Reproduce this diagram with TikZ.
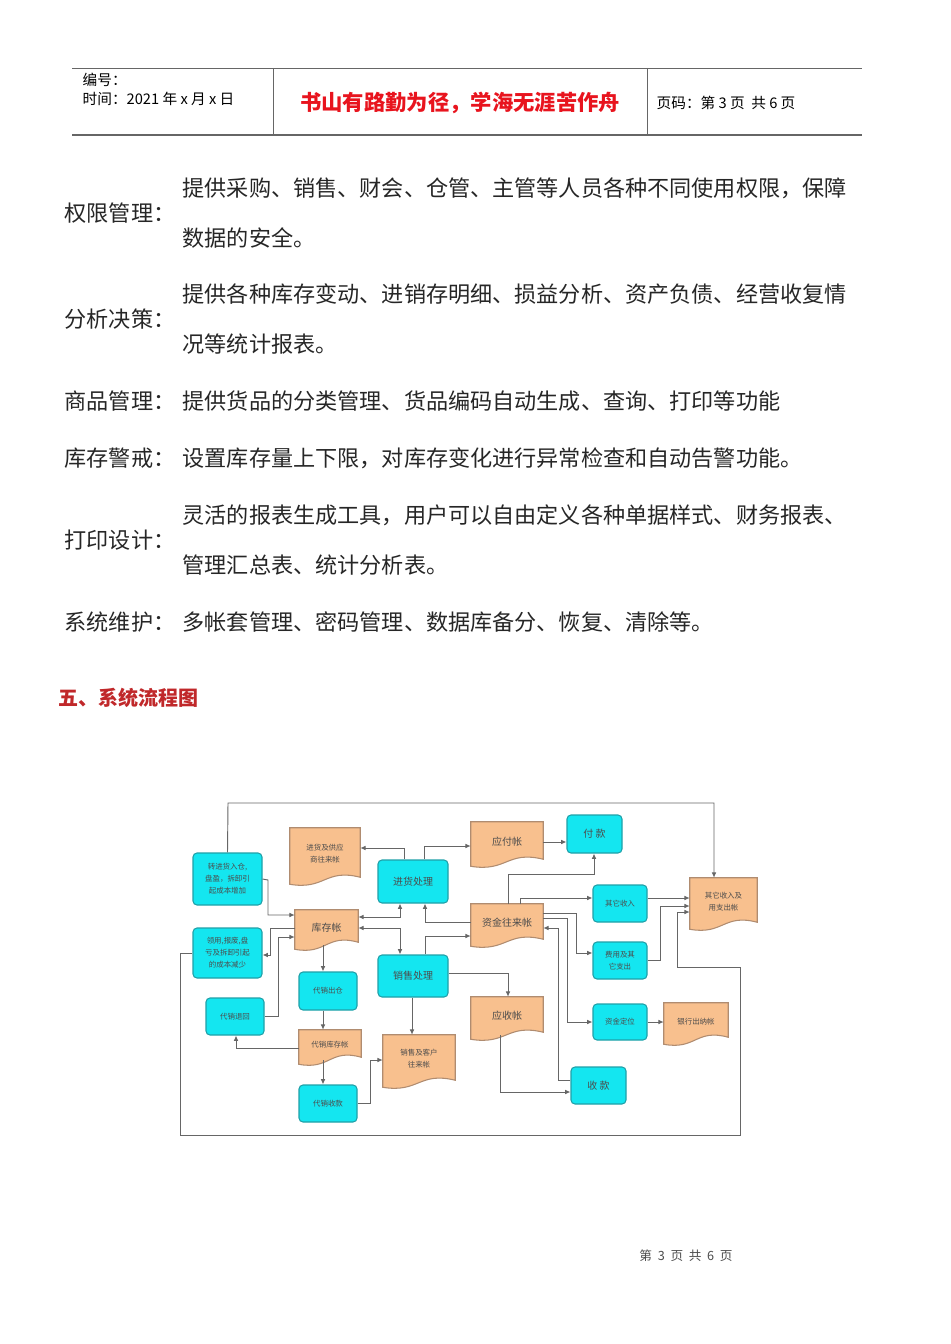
\documentclass[tikz,border=0pt]{standalone}
\usepackage{fontspec}
\setmainfont{Noto Sans CJK SC}
\usetikzlibrary{calc,backgrounds,arrows.meta}
\definecolor{cy}{HTML}{14E6F0}
\definecolor{cyb}{HTML}{1FA0A8}
\definecolor{org}{HTML}{F8C08E}
\definecolor{orb}{HTML}{B08C70}
\definecolor{ln}{HTML}{666666}
\definecolor{motto}{HTML}{E8141E}
\definecolor{sect}{HTML}{C0282A}
\newcommand{\bx}[7]{\node[#7,minimum width={(#4-#2)*0.75pt},minimum height={(#5-#3)*0.75pt}] (#1) at ({(#2+#4)/2},{(#3+#5)/2}) {#6};}
\newcommand{\docshape}[1]{\begin{scope}[on background layer]\draw[orb,fill=org,line width=0.8pt] (#1.north west) -- (#1.north east) -- ($(#1.south east)+(0,-3)$) .. controls ($(#1.south)+(0,-12)$) and ($(#1.south)+(0,10)$) .. ($(#1.south west)+(0,4)$) -- cycle;\end{scope}}
\begin{document}
\begin{tikzpicture}[x=0.75pt,y=-0.75pt,
  cbox/.style={draw=cyb,fill=cy,rounded corners=3pt,line width=0.8pt,inner sep=1pt,align=center,font=\fontsize{7.5}{10}\selectfont,text=black!70},
  dbox/.style={draw=none,inner sep=1pt,align=center,font=\fontsize{7.5}{10}\selectfont,text=black!70},
  sm/.style={font=\fontsize{5.6}{9}\selectfont},
  ar/.style={draw=ln,line width=0.7pt,-{Latex[length=4pt,width=3.5pt]}},
  dar/.style={draw=ln,line width=0.7pt,{Latex[length=4pt,width=3.5pt]}-{Latex[length=4pt,width=3.5pt]}},
  pl/.style={draw=ln,line width=0.7pt},
  body/.style={anchor=west,font=\fontsize{16.6}{18}\selectfont,text=black!85}]
\useasboundingbox (0,0) rectangle (950,1344);
% header
\draw[black!60,line width=0.6pt] (72,68) -- (862,68);
\draw[black!60,line width=1.2pt] (72,135) -- (862,135);
\draw[black!60,line width=0.6pt] (273,68) -- (273,135) (647,68) -- (647,135);
\node[anchor=west,font=\fontsize{11}{13}\selectfont] (h1) at (78,80) {编号：};
\node[anchor=west,font=\fontsize{11}{13}\selectfont] (h2) at (78,99) {时间：2021 年 x 月 x 日};
\node[font=\bfseries\fontsize{16}{18}\selectfont,text=motto] (h3) at (460,103) {书山有路勤为径，学海无涯苦作舟};
\node[anchor=west,font=\fontsize{11}{13}\selectfont] (h4) at (652,103) {页码：第 3 页 \ 共 6 页};
% body
\node[body] (l1) at (60,213) {权限管理：};
\node[body] (t1a) at (178,188) {提供采购、销售、财会、仓管、主管等人员各种不同使用权限，保障};
\node[body] (t1b) at (178,238) {数据的安全。};
\node[body] (l2) at (60,319) {分析决策：};
\node[body] (t2a) at (178,294) {提供各种库存变动、进销存明细、损益分析、资产负债、经营收复情};
\node[body] (t2b) at (178,344) {况等统计报表。};
\node[body] (l3) at (60,401) {商品管理：};
\node[body] (t3) at (178,401) {提供货品的分类管理、货品编码自动生成、查询、打印等功能};
\node[body] (l4) at (60,458) {库存警戒：};
\node[body] (t4) at (178,458) {设置库存量上下限，对库存变化进行异常检查和自动告警功能。};
\node[body] (l5) at (60,540) {打印设计：};
\node[body] (t5a) at (178,515) {灵活的报表生成工具，用户可以自由定义各种单据样式、财务报表、};
\node[body] (t5b) at (178,565) {管理汇总表、统计分析表。};
\node[body] (l6) at (60,622) {系统维护：};
\node[body] (t6) at (178,622) {多帐套管理、密码管理、数据库备分、恢复、清除等。};
\node[anchor=west,font=\bfseries\fontsize{15}{18}\selectfont,text=sect] (sec) at (54,698) {五、系统流程图};
\node[font=\fontsize{9.5}{11}\selectfont,text=black!70] (ft) at (686,1256) {第 \ 3 \ 页 \ 共 \ 6 \ 页};
% diagram nodes
\bx{A}{193}{853}{262}{905}{转进货入仓,\\盘盈，拆卸引\\起成本增加}{cbox,sm}
\bx{B}{193}{928}{262}{978}{领用,报废,盘\\亏及拆卸引起\\的成本减少}{cbox,sm}
\bx{jgd}{290}{828}{360}{880}{进货及供应\\商往来帐}{dbox,sm}
\bx{jg}{378}{860}{448}{903}{进货处理}{cbox}
\bx{yf}{471}{822}{543}{862}{应付帐}{dbox}
\bx{fk}{567}{815}{622}{853}{付 款}{cbox}
\bx{kc}{295}{910}{358}{945}{库存帐}{dbox}
\bx{zj}{471}{904}{543}{942}{资金往来帐}{dbox}
\bx{qs}{593}{885}{647}{922}{其它收入}{cbox,sm}
\bx{qd}{690}{878}{757}{925}{其它收入及\\用支出帐}{dbox,sm}
\bx{fy}{593}{942}{647}{979}{费用及其\\它支出}{cbox,sm}
\bx{xs}{378}{955}{448}{997}{销售处理}{cbox}
\bx{dc}{299}{972}{357}{1010}{代销出仓}{cbox,sm}
\bx{dt}{206}{998}{264}{1035}{代销退回}{cbox,sm}
\bx{ys}{471}{997}{543}{1035}{应收帐}{dbox}
\bx{zd}{593}{1004}{647}{1040}{资金定位}{cbox,sm}
\bx{yh}{664}{1003}{728}{1040}{银行出纳帐}{dbox,sm}
\bx{dk}{299}{1030}{361}{1060}{代销库存帐}{dbox,sm}
\bx{xk}{383}{1035}{455}{1083}{销售及客户\\往来帐}{dbox,sm}
\bx{sk}{571}{1067}{626}{1104}{收 款}{cbox}
\bx{dsk}{299}{1085}{357}{1122}{代销收款}{cbox,sm}
\docshape{jgd}\docshape{yf}\docshape{kc}\docshape{zj}\docshape{qd}\docshape{ys}\docshape{yh}\docshape{dk}\docshape{xk}
% connectors
\draw[pl] (B.west) -- (180,953) -- (180,1135) -- (740,1135) -- (740,967) -- (677,967) coordinate (q1);
\draw[ar] (q1) -- (677,912) -- (qd.west |- 0,912);
\draw[ar] (A.north) -- (228,803) -- (714,803) -- (qd.north -| 714,0);
\draw[ar] (A.east) -- (268,880) -- (268,915) -- (kc.west |- 0,915);
\draw[ar] (kc.west |- 0,928) -- (270,928) -- (270,955) -- (B.east |- 0,955);
\draw[ar] (dt.east |- 0,1016) -- (278,1016) -- (278,937) -- (kc.west |- 0,937);
\draw[ar] (jg.north -| 404,0) -- (404,848) -- (jgd.east |- 0,848);
\draw[ar] (jg.north -| 424,0) -- (424,846) -- (yf.west |- 0,846);
\draw[dar] (kc.east |- 0,917) -- (400,917) -- (jg.south -| 400,0);
\draw[dar] (kc.east |- 0,928) -- (400,928) -- (xs.north -| 400,0);
\draw[ar] (zj.west |- 0,922) -- (425,922) -- (jg.south -| 425,0);
\draw[ar] (xs.north -| 425,0) -- (425,936) -- (zj.west |- 0,936);
\draw[ar] (zj.north -| 508,0) -- (508,874) -- (594,874) -- (fk.south -| 594,0);
\draw[ar] (yf.east |- 0,842) -- (fk.west |- 0,842);
\draw[ar] (zj.north -| 520,0) -- (520,898) -- (qs.west |- 0,898);
\draw[ar] (qs.east |- 0,898) -- (qd.west |- 0,898);
\draw[ar] (fy.east |- 0,960) -- (660,960) -- (660,906) -- (qd.west |- 0,906);
\draw[ar] (zj.east |- 0,913) -- (576,913) -- (576,953) -- (fy.west |- 0,953);
\draw[ar] (zj.east |- 0,918) -- (567,918) -- (567,1022) -- (zd.west |- 0,1022);
\draw[ar] (sk.west |- 0,1080) -- (558,1080) -- (558,928) -- (zj.east |- 0,928);
\draw[ar] (zd.east |- 0,1022) -- (yh.west |- 0,1022);
\draw[ar] (xs.east |- 0,973) -- (508,973) -- (ys.north -| 508,0);
\draw[ar] (ys.south -| 500,0) -- (500,1092) -- (sk.west |- 0,1092);
\draw[ar] (xs.south -| 412,0) -- (xk.north -| 412,0);
\draw[ar] (kc.south -| 323,0) -- (dc.north -| 323,0);
\draw[ar] (dc.south -| 323,0) -- (dk.north -| 323,0);
\draw[ar] (dk.west |- 0,1048) -- (236,1048) -- (dt.south -| 236,0);
\draw[ar] (dk.south -| 323,0) -- (dsk.north -| 323,0);
\draw[ar] (dsk.east |- 0,1103) -- (370,1103) -- (370,1060) -- (xk.west |- 0,1060);
\end{tikzpicture}
\end{document}
